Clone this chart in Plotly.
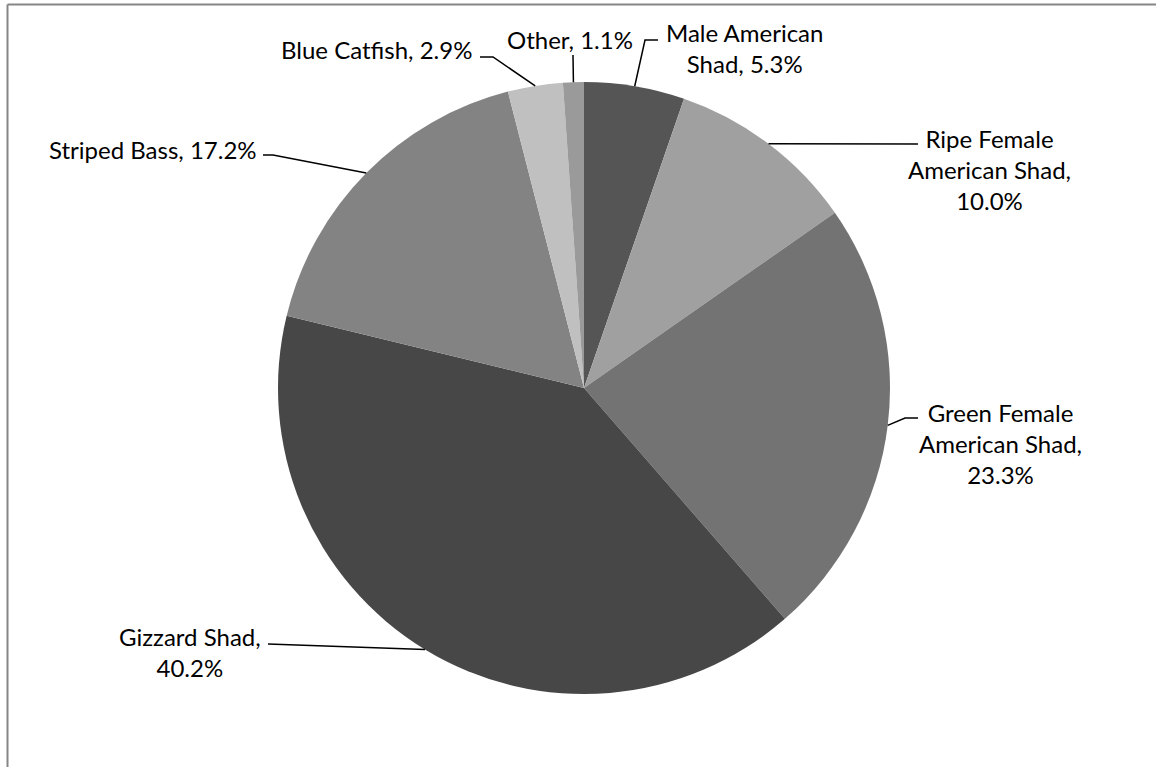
import math
import plotly.graph_objects as go

# ---- data ----
labels = ["Male American Shad", "Ripe Female American Shad", "Green Female American Shad",
          "Gizzard Shad", "Striped Bass", "Blue Catfish", "Other"]
values = [5.3, 10.0, 23.3, 40.2, 17.2, 2.9, 1.1]
colors = ["#555555", "#a0a0a0", "#737373", "#474747", "#838383", "#c0c0c0", "#9a9a9a"]

# ---- layout (pixels) ----
W, H = 1156, 767
CX, CY, R = 584, 388, 306
# words per line, label block centre, leader-line knee points (towards text)
label_layout = [
    dict(lines=[2, 2], c=(744, 48), pts=[(645, 40), (658, 40)]),
    dict(lines=[2, 2, 1], c=(989, 170), pts=[(918, 144)]),
    dict(lines=[2, 2, 1], c=(1000, 444), pts=[(905, 418), (918, 418)]),
    dict(lines=[2, 1], c=(190, 652), pts=[(268, 644)]),
    dict(lines=[5], c=(153, 150), pts=[(273, 155), (263, 155)]),
    dict(lines=[4], c=(376, 49), pts=[(493, 57), (480, 57)]),
    dict(lines=[2], c=(570, 40), pts=[(573, 55)]),
]

FONT = "Lato, Calibri, Carlito, sans-serif"


def px(x, y):
    return x / W, 1 - y / H


fig = go.Figure(go.Pie(
    labels=labels, values=values, sort=False, direction="clockwise", rotation=0,
    marker=dict(colors=colors, line=dict(width=0)),
    textinfo="none", hoverinfo="label+percent", showlegend=False,
    domain=dict(x=[(CX - R) / W, (CX + R) / W], y=[1 - (CY + R) / H, 1 - (CY - R) / H]),
))

total = sum(values)
cum = 0.0
annotations = []
shapes = []
for name, v, lay in zip(labels, values, label_layout):
    mid = (cum + v / 2) / total * 2 * math.pi
    cum += v
    ex, ey = CX + R * math.sin(mid), CY - R * math.cos(mid)
    words = f"{name}, {v:.1f}%".split(" ")
    out, i = [], 0
    for n in lay["lines"]:
        out.append(" ".join(words[i:i + n]))
        i += n
    text = "<br>".join(out)
    tx, ty = px(*lay["c"])
    annotations.append(dict(text=text, x=tx, y=ty, xref="paper", yref="paper",
                            xanchor="center", yanchor="middle", align="center",
                            showarrow=False, font=dict(family=FONT, size=24, color="#000000")))
    pts = [(ex, ey)] + lay["pts"]
    path = "M " + " L ".join(f"{px(a, b)[0]},{px(a, b)[1]}" for a, b in pts)
    shapes.append(dict(type="path", path=path, xref="paper", yref="paper",
                       line=dict(color="#000000", width=1.5)))

# chart area border (top and left visible)
bx, by = px(7.5, 4.5)
shapes.append(dict(type="line", xref="paper", yref="paper", x0=bx, y0=by, x1=1, y1=by,
                   line=dict(color="#868686", width=2)))
shapes.append(dict(type="line", xref="paper", yref="paper", x0=bx, y0=by, x1=bx, y1=0,
                   line=dict(color="#868686", width=2)))

fig.update_layout(width=W, height=H, margin=dict(l=0, r=0, t=0, b=0),
                  paper_bgcolor="#ffffff", plot_bgcolor="#ffffff",
                  annotations=annotations, shapes=shapes)
fig.write_html("out.html")
